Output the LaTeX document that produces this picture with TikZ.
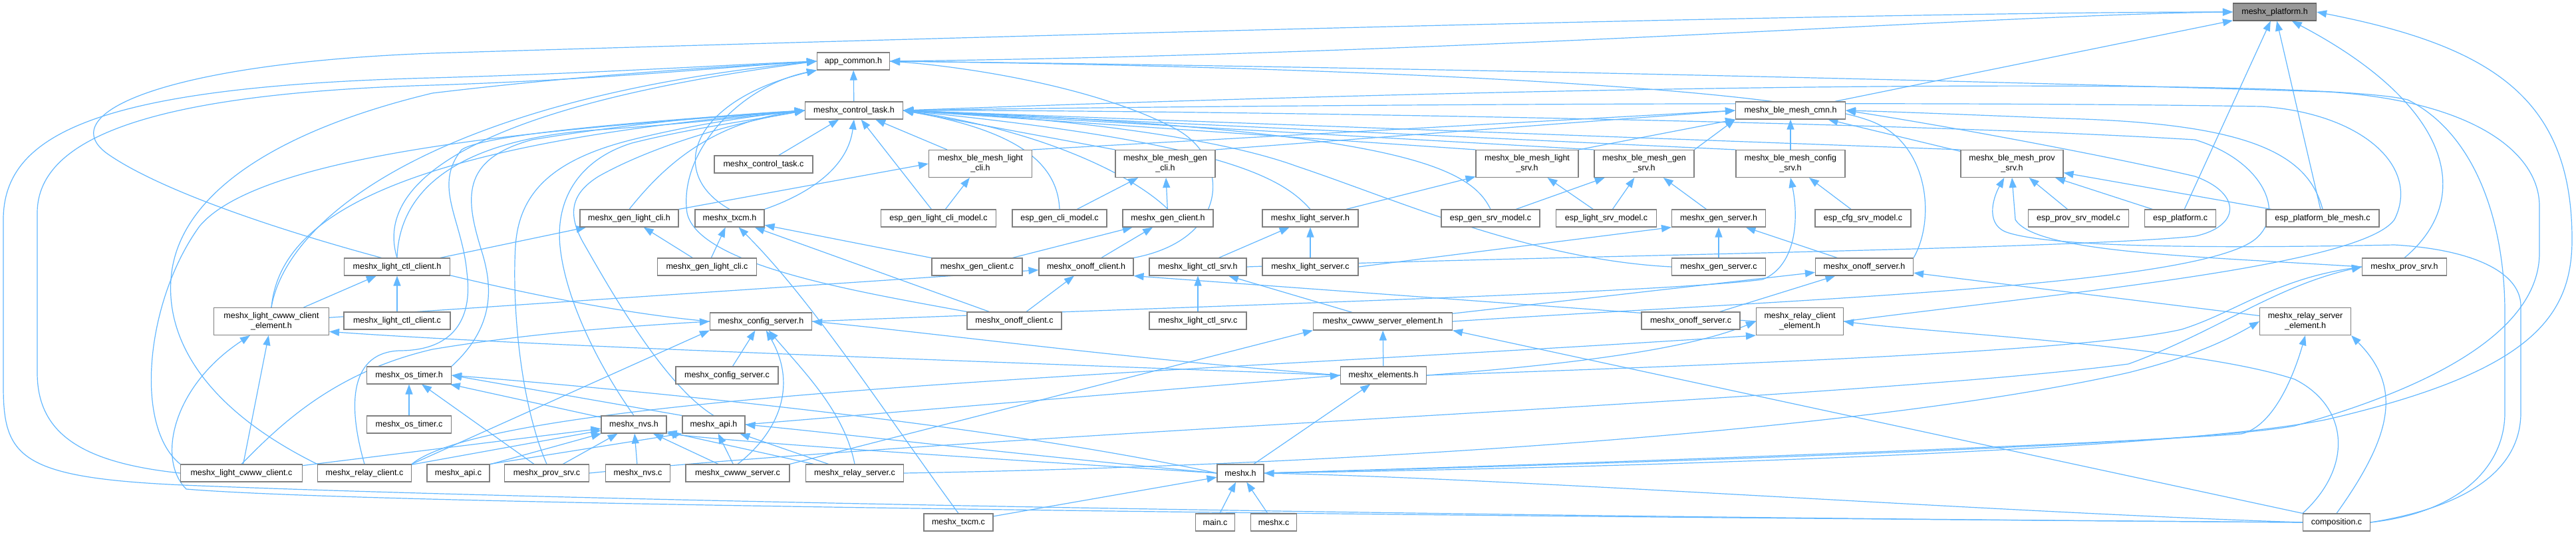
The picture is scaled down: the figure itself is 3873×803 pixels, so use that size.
\documentclass[tikz,border=0pt]{standalone}
\usepackage{fontspec}
\setmainfont{Liberation Sans}
\usetikzlibrary{arrows.meta}
\definecolor{edgeblue}{HTML}{63B8FF}
\definecolor{nodeborder}{HTML}{7F7F7F}
\definecolor{rootfill}{HTML}{999999}
\definecolor{rootborder}{HTML}{666666}
\pgfdeclarelayer{bg}
\pgfsetlayers{bg,main}
\begin{document}
\begin{tikzpicture}[x=1pt,y=-1pt,
  nd/.style={draw=nodeborder, line width=1.1pt, fill=white, minimum height=26pt, inner sep=0pt, align=center, font=\fontsize{12.5}{15}\selectfont},
  ndd/.style={nd, minimum height=41pt},
  rootnd/.style={nd, fill=rootfill, draw=rootborder},
  e/.style={draw=edgeblue, line width=1.2pt, -{Triangle[length=15pt,width=11pt]}}]
\useasboundingbox (0,0) rectangle (3873,803);
% ---------------- nodes
\node[rootnd, minimum width=125pt] (platform) at (3420,18) {meshx\_platform.h};
\node[nd, minimum width=109pt] (app) at (1283,92) {app\_common.h};
\node[nd, minimum width=165pt] (cmn) at (2692,166) {meshx\_ble\_mesh\_cmn.h};
\node[nd, minimum width=147pt] (cth) at (1284,166) {meshx\_control\_task.h};
\node[ndd, minimum width=155pt] (blcli) at (1474,246) {meshx\_ble\_mesh\_light\\\_cli.h};
\node[ndd, minimum width=150pt] (bgcli) at (1752,246) {meshx\_ble\_mesh\_gen\\\_cli.h};
\node[ndd, minimum width=154pt] (blsrv) at (2296,246) {meshx\_ble\_mesh\_light\\\_srv.h};
\node[ndd, minimum width=150pt] (bgsrv) at (2472,246) {meshx\_ble\_mesh\_gen\\\_srv.h};
\node[ndd, minimum width=164pt] (bcfg) at (2692,246) {meshx\_ble\_mesh\_config\\\_srv.h};
\node[ndd, minimum width=154pt] (bprov) at (3025,246) {meshx\_ble\_mesh\_prov\\\_srv.h};
\node[nd, minimum width=148pt] (ctc) at (1148,247) {meshx\_control\_task.c};
\node[nd, minimum width=148pt] (glch) at (946,328) {meshx\_gen\_light\_cli.h};
\node[nd, minimum width=104pt] (txh) at (1097,328) {meshx\_txcm.h};
\node[nd, minimum width=173pt] (eglcm) at (1411,328) {esp\_gen\_light\_cli\_model.c};
\node[nd, minimum width=142pt] (egcm) at (1593,328) {esp\_gen\_cli\_model.c};
\node[nd, minimum width=136pt] (gch) at (1756,328) {meshx\_gen\_client.h};
\node[nd, minimum width=144pt] (lsh) at (1970,328) {meshx\_light\_server.h};
\node[nd, minimum width=148pt] (egsm) at (2241,328) {esp\_gen\_srv\_model.c};
\node[nd, minimum width=151pt] (elsm) at (2415,328) {esp\_light\_srv\_model.c};
\node[nd, minimum width=141pt] (gsh) at (2584,328) {meshx\_gen\_server.h};
\node[nd, minimum width=144pt] (ecsm) at (2801,328) {esp\_cfg\_srv\_model.c};
\node[nd, minimum width=151pt] (epsm) at (3125,328) {esp\_prov\_srv\_model.c};
\node[nd, minimum width=107pt] (epc) at (3278,328) {esp\_platform.c};
\node[nd, minimum width=170pt] (epbm) at (3492,328) {esp\_platform\_ble\_mesh.c};
\node[nd, minimum width=159pt] (lcch) at (597,401) {meshx\_light\_ctl\_client.h};
\node[nd, minimum width=149pt] (glcc) at (1063,401) {meshx\_gen\_light\_cli.c};
\node[nd, minimum width=136pt] (gcc) at (1469,401) {meshx\_gen\_client.c};
\node[nd, minimum width=142pt] (och) at (1633,401) {meshx\_onoff\_client.h};
\node[nd, minimum width=146pt] (lcsh) at (1801,401) {meshx\_light\_ctl\_srv.h};
\node[nd, minimum width=144pt] (lsc) at (1970,401) {meshx\_light\_server.c};
\node[nd, minimum width=141pt] (gsc) at (2584,401) {meshx\_gen\_server.c};
\node[nd, minimum width=147pt] (osh) at (2803,401) {meshx\_onoff\_server.h};
\node[nd, minimum width=127pt] (psh) at (3615,401) {meshx\_prov\_srv.h};
\node[nd, minimum width=160pt] (lccc) at (597,482) {meshx\_light\_ctl\_client.c};
\node[ndd, minimum width=173pt] (lcweh) at (408,483) {meshx\_light\_cwww\_client\\\_element.h};
\node[nd, minimum width=153pt] (csh) at (1144,483) {meshx\_config\_server.h};
\node[nd, minimum width=142pt] (occ) at (1525,482) {meshx\_onoff\_client.c};
\node[nd, minimum width=146pt] (lcsc) at (1801,482) {meshx\_light\_ctl\_srv.c};
\node[nd, minimum width=209pt] (cseh) at (2079,483) {meshx\_cwww\_server\_element.h};
\node[nd, minimum width=148pt] (osc) at (2542,482) {meshx\_onoff\_server.c};
\node[ndd, minimum width=131pt] (rceh) at (2706,483) {meshx\_relay\_client\\\_element.h};
\node[ndd, minimum width=137pt] (rseh) at (3466,483) {meshx\_relay\_server\\\_element.h};
\node[nd, minimum width=154pt] (csc) at (1093,564) {meshx\_config\_server.c};
\node[nd, minimum width=127pt] (oth) at (615,564) {meshx\_os\_timer.h};
\node[nd, minimum width=129pt] (elh) at (2080,564) {meshx\_elements.h};
\node[nd, minimum width=127pt] (otc) at (615,638) {meshx\_os\_timer.c};
\node[nd, minimum width=98pt] (nvh) at (953,638) {meshx\_nvs.h};
\node[nd, minimum width=94pt] (aph) at (1073,638) {meshx\_api.h};
\node[nd, minimum width=183pt] (lcwc) at (363,711) {meshx\_light\_cwww\_client.c};
\node[nd, minimum width=141pt] (rcc) at (548,711) {meshx\_relay\_client.c};
\node[nd, minimum width=94pt] (apc) at (689,711) {meshx\_api.c};
\node[nd, minimum width=127pt] (psc) at (822,711) {meshx\_prov\_srv.c};
\node[nd, minimum width=97pt] (nvc) at (959,711) {meshx\_nvs.c};
\node[nd, minimum width=156pt] (cwsc) at (1109,711) {meshx\_cwww\_server.c};
\node[nd, minimum width=147pt] (rsc) at (1285,711) {meshx\_relay\_server.c};
\node[nd, minimum width=70pt] (mxh) at (1865,711) {meshx.h};
\node[nd, minimum width=104pt] (txc) at (1441,785) {meshx\_txcm.c};
\node[nd, minimum width=59pt] (mainc) at (1827,785) {main.c};
\node[nd, minimum width=69pt] (mxc) at (1915,785) {meshx.c};
\node[nd, minimum width=101pt] (comp) at (3513,785) {composition.c};
\begin{pgfonlayer}{bg}
\fill[white] (0,0) rectangle (3873,803);
% ---------------- edges: meshx_platform.h
\draw[e] (app.east) .. controls (2200,82) and (3000,22) .. (platform.west);
\draw[e] (cmn) -- (platform);
\draw[e] (csh.west) .. controls (800,460) and (300,330) .. (160,230) .. controls (80,170) and (250,95) .. (650,80) .. controls (1800,45) and (2900,18) .. (platform.west);
\draw[e] (epc) -- (platform);
\draw[e] (epbm) -- (platform);
\draw[e] (psh.north) .. controls (3720,300) and (3690,160) .. (platform);
\draw[e] (mxh.east) .. controls (2600,700) and (3300,672) .. (3500,630) .. controls (3800,560) and (3867,480) .. (3867,360) .. controls (3867,150) and (3750,70) .. (platform.east);
% ---------------- app_common.h
\draw[e] (cth) -- (app);
\draw[e] (txh.north) .. controls (1000,260) and (1040,150) .. (app.south west);
\draw[e] (occ.north west) .. controls (1300,440) and (1050,400) .. (1033,320) .. controls (1020,230) and (1110,130) .. (app.south west);
\draw[e] (och.north east) .. controls (1850,360) and (1850,240) .. (1770,195) .. controls (1650,130) and (1450,100) .. (app.east);
\draw[e] (lcwc.west) .. controls (120,695) and (56,650) .. (56,560) -- (56,320) .. controls (56,200) and (250,140) .. (650,128) .. controls (900,120) and (1100,100) .. (app.west);
\draw[e] (comp.west) .. controls (2000,775) and (800,750) .. (300,730) .. controls (30,720) and (5,690) .. (5,580) -- (5,330) .. controls (5,200) and (150,130) .. (650,117) .. controls (900,110) and (1100,97) .. (app.west);
\draw[e] (lcweh.north) .. controls (430,330) and (650,150) .. (app.west);
\draw[e] (lcch.north) .. controls (570,300) and (640,170) .. (app.west);
\draw[e] (rcc.north west) .. controls (320,620) and (250,520) .. (257,420) .. controls (265,300) and (400,200) .. (650,140) .. controls (900,110) and (1100,100) .. (app.west);
\draw[e] (mxh.east) .. controls (2500,695) and (3300,668) .. (3450,640) .. controls (3700,570) and (3818,480) .. (3818,380) -- (3818,310) .. controls (3818,230) and (3720,152) .. (3500,138) .. controls (2600,110) and (1700,96) .. (app.east);
\draw[e] (osh.north east) .. controls (2910,330) and (2900,220) .. (2820,185) .. controls (2700,130) and (2000,100) .. (app.east);
% ---------------- meshx_ble_mesh_cmn.h
\draw[e] (blcli.north east) -- (cmn.west);
\draw[e] (bgcli.north east) -- (cmn.west);
\draw[e] (blsrv.north east) -- (cmn.south west);
\draw[e] (bgsrv.north east) -- (cmn.south west);
\draw[e] (bcfg) -- (cmn);
\draw[e] (bprov) -- (cmn);
\draw[e] (epbm.north) .. controls (3470,230) and (3380,185) .. (3100,178) .. controls (2950,172) and (2850,168) .. (cmn.east);
\draw[e] (lcsh.east) .. controls (2300,385) and (3100,375) .. (3300,355) .. controls (3370,340) and (3370,290) .. (3300,265) .. controls (3150,230) and (2900,185) .. (cmn.east);
% ---------------- meshx_control_task.h
\draw[e] (ctc) -- (cth);
\draw[e] (eglcm) -- (cth);
\draw[e] (egcm.north) .. controls (1590,240) and (1520,195) .. (cth.east);
\draw[e] (gch.north) .. controls (1700,260) and (1560,195) .. (cth.east);
\draw[e] (blcli) -- (cth);
\draw[e] (bgcli.north west) -- (cth.east);
\draw[e] (blsrv.north west) -- (cth.east);
\draw[e] (bgsrv.north west) -- (cth.east);
\draw[e] (bcfg.north west) -- (cth.east);
\draw[e] (bprov.north west) -- (cth.east);
\draw[e] (egsm.north) .. controls (2210,250) and (2100,195) .. (cth.east);
\draw[e] (lsh.north) .. controls (1930,270) and (1850,215) .. (cth.east);
\draw[e] (gsc.west) .. controls (2300,390) and (2100,300) .. (1950,250) .. controls (1800,195) and (1500,172) .. (cth.east);
\draw[e] (txh.north east) .. controls (1220,290) and (1275,250) .. (cth.south);
\draw[e] (glch.north) .. controls (990,260) and (1060,185) .. (cth.west);
\draw[e] (lcch.north) .. controls (600,290) and (680,210) .. (900,195) .. controls (1050,185) and (1150,172) .. (cth.west);
\draw[e] (lcweh.north) .. controls (420,340) and (560,220) .. (cth.west);
\draw[e] (lcwc.north west) .. controls (200,640) and (220,450) .. (300,340) .. controls (400,220) and (900,190) .. (cth.west);
\draw[e] (rcc.north) .. controls (520,600) and (530,530) .. (600,527) .. controls (690,527) and (710,470) .. (702,410) .. controls (695,330) and (650,280) .. (694,225) .. controls (730,200) and (1000,180) .. (cth.west);
\draw[e] (oth.north east) .. controls (745,490) and (740,430) .. (725,380) .. controls (700,300) and (690,240) .. (800,210) .. controls (950,185) and (1100,172) .. (cth.west);
\draw[e] (psc.north) .. controls (780,600) and (770,450) .. (775,370) .. controls (780,290) and (830,240) .. (950,210) .. controls (1050,185) and (1150,172) .. (cth.west);
\draw[e] (nvh.north) .. controls (900,550) and (850,450) .. (842,370) .. controls (835,300) and (870,240) .. (950,215) .. controls (1050,190) and (1150,178) .. (cth.west);
\draw[e] (aph.north) .. controls (1000,580) and (920,440) .. (880,370) .. controls (850,320) and (860,290) .. (900,265) .. controls (980,220) and (1100,185) .. (cth.west);
\draw[e] (comp.east) .. controls (3700,770) and (3766,700) .. (3766,620) -- (3766,470) .. controls (3766,330) and (3720,200) .. (3620,150) .. controls (3500,120) and (2600,120) .. (cth.east);
\draw[e] (rceh.east) .. controls (3100,440) and (3550,400) .. (3600,330) .. controls (3640,250) and (3550,170) .. (3400,160) .. controls (2800,150) and (1700,160) .. (cth.east);
\draw[e] (cseh.east) .. controls (2700,450) and (3300,430) .. (3390,360) .. controls (3440,320) and (3400,240) .. (3300,210) .. controls (2800,180) and (1700,165) .. (cth.east);
% ---------------- second level headers
\draw[e] (eglcm) -- (blcli);
\draw[e] (glch.north east) -- (blcli.west);
\draw[e] (egcm) -- (bgcli);
\draw[e] (gch) -- (bgcli);
\draw[e] (lsh) -- (blsrv);
\draw[e] (elsm) -- (blsrv);
\draw[e] (egsm) -- (bgsrv);
\draw[e] (elsm) -- (bgsrv);
\draw[e] (gsh) -- (bgsrv);
\draw[e] (ecsm) -- (bcfg);
\draw[e] (csh.east) .. controls (1800,460) and (2500,440) .. (2650,420) .. controls (2700,400) and (2705,330) .. (bcfg.south);
\draw[e] (epsm) -- (bprov);
\draw[e] (epc) -- (bprov);
\draw[e] (epbm) -- (bprov);
\draw[e] (psh.west) .. controls (3300,385) and (3060,380) .. (3030,330) -- (bprov.south);
\draw[e] (comp.east) .. controls (3720,760) and (3790,700) .. (3790,620) -- (3790,460) .. controls (3790,410) and (3720,375) .. (3600,368) .. controls (3400,372) and (3100,375) .. (3020,350) .. controls (2985,340) and (2995,300) .. (bprov);
% ---------------- third level
\draw[e] (glcc) -- (glch);
\draw[e] (lcch) -- (glch);
\draw[e] (glcc) -- (txh);
\draw[e] (txc.north) .. controls (1330,620) and (1220,450) .. (txh);
\draw[e] (occ) -- (txh);
\draw[e] (gcc) -- (txh);
\draw[e] (gcc) -- (gch);
\draw[e] (och) -- (gch);
\draw[e] (lsc) -- (lsh);
\draw[e] (lcsh) -- (lsh);
\draw[e] (gsc) -- (gsh);
\draw[e] (osh) -- (gsh);
\draw[e] (lsc.east) -- (gsh.south west);
% ---------------- fourth level
\draw[e] (lccc) -- (lcch);
\draw[e] (lcweh) -- (lcch);
\draw[e] (occ) -- (och);
\draw[e] (lcweh) -- (och);
\draw[e] (rceh.west) -- (och.south east);
\draw[e] (lcsc) -- (lcsh);
\draw[e] (cseh) -- (lcsh);
\draw[e] (osc) -- (osh);
\draw[e] (rseh) -- (osh);
\draw[e] (cseh) -- (osh);
\draw[e] (psc.east) .. controls (1500,650) and (2800,600) .. (3200,547) .. controls (3330,500) and (3420,430) .. (psh.west);
\draw[e] (elh.east) .. controls (2700,545) and (3150,525) .. (3280,495) .. controls (3360,470) and (3420,420) .. (psh.west);
% ---------------- element headers
\draw[e] (lcwc) -- (lcweh);
\draw[e] (comp.west) .. controls (2500,778) and (600,762) .. (280,735) .. controls (235,690) and (260,580) .. (lcweh);
\draw[e] (elh.west) .. controls (1400,540) and (800,520) .. (lcweh.-10);
\draw[e] (elh.west) .. controls (1700,540) and (1400,500) .. (csh.east);
\draw[e] (elh) -- (cseh);
\draw[e] (elh.east) .. controls (2400,545) and (2550,520) .. (rceh.west);
\draw[e] (rsc.east) .. controls (2000,700) and (2800,650) .. (3200,560) .. controls (3300,535) and (3350,510) .. (rseh.west);
\draw[e] (mxh.east) .. controls (2600,690) and (3200,665) .. (3370,652) .. controls (3420,640) and (3450,560) .. (rseh.south);
\draw[e] (comp.north) .. controls (3600,650) and (3610,580) .. (rseh.south east);
\draw[e] (comp.north west) .. controls (3540,700) and (3530,610) .. (3450,570) .. controls (3300,520) and (2900,500) .. (rceh.east);
\draw[e] (comp.north west) -- (cseh.south east);
\draw[e] (cwsc.north east) -- (cseh.south west);
\draw[e] (rcc.north east) .. controls (750,590) and (1800,560) .. (rceh.south west);
% ---------------- meshx_config_server.h
\draw[e] (csc) -- (csh);
\draw[e] (cwsc.north) .. controls (1170,650) and (1200,580) .. (csh);
\draw[e] (rsc.north) .. controls (1270,620) and (1210,560) .. (csh);
\draw[e] (lcwc.north) .. controls (420,640) and (500,560) .. (650,525) .. controls (800,500) and (950,490) .. (csh.west);
\draw[e] (rcc.north east) -- (csh.south west);
% ---------------- lower headers
\draw[e] (otc) -- (oth);
\draw[e] (aph.north west) -- (oth.east);
\draw[e] (nvh) -- (oth);
\draw[e] (psc) -- (oth);
\draw[e] (mxh.west) .. controls (1500,640) and (1000,590) .. (oth.east);
\draw[e] (nvc) -- (nvh);
\draw[e] (psc) -- (nvh);
\draw[e] (cwsc) -- (nvh);
\draw[e] (rsc) -- (nvh);
\draw[e] (lcwc) -- (nvh);
\draw[e] (rcc) -- (nvh);
\draw[e] (apc) -- (nvh);
\draw[e] (mxh.west) .. controls (1500,690) and (1150,668) .. (nvh.south east);
\draw[e] (cwsc) -- (aph);
\draw[e] (rsc) -- (aph);
\draw[e] (apc.north east) -- (aph.south west);
\draw[e] (mxh.west) .. controls (1500,680) and (1250,650) .. (aph.east);
\draw[e] (aph.east) -- (elh.west);
\draw[e] (mxh) -- (elh);
% ---------------- meshx.h
\draw[e] (txc) -- (mxh);
\draw[e] (mainc) -- (mxh);
\draw[e] (mxc) -- (mxh);
\draw[e] (comp.west) .. controls (3000,770) and (2300,720) .. (mxh.east);
\end{pgfonlayer}
\end{tikzpicture}
\end{document}
